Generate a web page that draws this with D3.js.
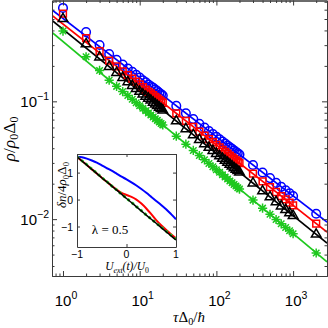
<!DOCTYPE html>
<html>
<head>
<meta charset="utf-8">
<script src="https://cdn.jsdelivr.net/npm/d3@7"></script>
<style>
  body { margin: 0; background: #fff; }
</style>
</head>
<body>
<div id="chart"></div>
<script>
// sweep times (tau*Delta0/hbar) of the markers
const tau = [1, 2, 3, 4, 5, 6, 7, 8, 9, 10, 11, 12, 13, 14, 15, 16, 17, 18, 19, 20,
  30, 40, 50, 60, 70, 80, 90, 100, 110, 120, 130, 140, 150, 160, 170, 180, 190, 200,
  300, 400, 500, 600, 700, 800, 900, 1000, 2000]

const rhoBlue = [0.621, 0.387, 0.301, 0.252, 0.225, 0.205, 0.190, 0.178, 0.168, 0.159,
  0.151, 0.145, 0.139, 0.134, 0.130, 0.126, 0.122, 0.118, 0.115, 0.112,
  0.0915, 0.0792, 0.0708, 0.0646, 0.0598, 0.0559, 0.0527, 0.0500, 0.0476, 0.0456,
  0.0438, 0.0422, 0.0408, 0.0395, 0.0383, 0.0372, 0.0362, 0.0353,
  0.0288, 0.0249, 0.0223, 0.0203, 0.0188, 0.0176, 0.0166, 0.0157, 0.0111]

const rhoRed = [0.556, 0.344, 0.267, 0.222, 0.198, 0.180, 0.167, 0.156, 0.147, 0.139,
  0.132, 0.126, 0.121, 0.117, 0.113, 0.109, 0.106, 0.103, 0.0999, 0.0973,
  0.0790, 0.0682, 0.0608, 0.0554, 0.0512, 0.0478, 0.0450, 0.0426, 0.0406, 0.0388,
  0.0373, 0.0359, 0.0346, 0.0335, 0.0325, 0.0315, 0.0307, 0.0299,
  0.0243, 0.0209, 0.0187, 0.0170, 0.0157, 0.0147, 0.0138, 0.0131, 0.00917]

const rhoBlack = [0.502, 0.307, 0.237, 0.197, 0.175, 0.159, 0.146, 0.136, 0.128, 0.121,
  0.115, 0.110, 0.106, 0.102, 0.0979, 0.0946, 0.0917, 0.0889, 0.0864, 0.0841,
  0.0680, 0.0584, 0.0519, 0.0472, 0.0435, 0.0405, 0.0381, 0.0360, 0.0343, 0.0327,
  0.0314, 0.0302, 0.0291, 0.0281, 0.0272, 0.0264, 0.0257, 0.0250,
  0.0202, 0.0173, 0.0154, 0.0140, 0.0129, 0.0120, 0.0113, 0.0107, 0.00743]

const rhoGreen = [0.395, 0.239, 0.183, 0.151, 0.134, 0.121, 0.112, 0.104, 0.0973, 0.0919,
  0.0873, 0.0832, 0.0797, 0.0766, 0.0737, 0.0712, 0.0689, 0.0668, 0.0648, 0.0631,
  0.0506, 0.0433, 0.0383, 0.0347, 0.0319, 0.0297, 0.0278, 0.0263, 0.0250, 0.0238,
  0.0228, 0.0219, 0.0211, 0.0204, 0.0197, 0.0191, 0.0185, 0.0180,
  0.0145, 0.0124, 0.0110, 0.00993, 0.00913, 0.00849, 0.00796, 0.00752, 0.00516]

// power-law fit lines, given by their two ends
const fitTau = [0.72, 2770]
const fitBlue = [0.596, 0.00943]
const fitRed = [0.536, 0.00776]
const fitBlack = [0.486, 0.00626]
const fitGreen = [0.385, 0.00433]

// inset: delta n / 4 rho0 Delta0 vs U_ext(t)/U0
const insetX = [-1, -0.9, -0.8, -0.7, -0.6, -0.5, -0.4, -0.3, -0.2, -0.1, 0,
  0.1, 0.2, 0.3, 0.4, 0.5, 0.6, 0.7, 0.8, 0.9, 1]
const insetBlue = [1.585, 1.57, 1.52, 1.45, 1.37, 1.27, 1.17, 1.07, 0.96, 0.85, 0.75,
  0.64, 0.52, 0.39, 0.25, 0.10, -0.05, -0.20, -0.36, -0.54, -0.73]
const insetRed = [1.585, 1.43, 1.28, 1.12, 0.97, 0.81, 0.66, 0.51, 0.37, 0.25, 0.17,
  0.10, 0.0, -0.15, -0.33, -0.54, -0.76, -0.95, -1.12, -1.29, -1.44]
const insetBlack = [1.585, 1.43, 1.28, 1.12, 0.97, 0.81, 0.66, 0.51, 0.35, 0.20, 0.04,
  -0.11, -0.27, -0.42, -0.58, -0.73, -0.88, -1.04, -1.19, -1.35, -1.50]
const insetGreen = [1.585, 1.44, 1.29, 1.13, 0.98, 0.82, 0.67, 0.51, 0.36, 0.20, 0.05,
  -0.10, -0.26, -0.41, -0.57, -0.72, -0.87, -1.02, -1.17, -1.32, -1.47]

const xMajor = [1, 10, 100, 1000]
const yMajor = [0.01, 0.1]
const insetTicks = [-1, 0, 1]
const lambdaLabel = "λ = 0.5"

const size = [328, 328]
const plot = {left: 52, right: 327, top: 0.5, bottom: 276}
const axisColor = "#3a3a3a"
const green = "#1ec81e"

const series = [
  {color: "blue", marker: "circle", rho: rhoBlue, fit: fitBlue, inset: insetBlue},
  {color: "red", marker: "square", rho: rhoRed, fit: fitRed, inset: insetRed},
  {color: "black", marker: "triangle", rho: rhoBlack, fit: fitBlack, inset: insetBlack},
  {color: green, marker: "star", rho: rhoGreen, fit: fitGreen, inset: insetGreen},
]

const svg = d3.select("#chart").append("svg")
  .attr("width", size[0])
  .attr("height", size[1])
  .style("display", "block")

svg.append("rect").attr("width", size[0]).attr("height", size[1]).attr("fill", "#fff")

const x = d3.scaleLog().domain([0.719, 2767]).range([plot.left, plot.right])
const y = d3.scaleLog().domain([0.00329, 0.718]).range([plot.bottom, plot.top])

svg.append("clipPath").attr("id", "clip")
  .append("rect")
  .attr("x", plot.left).attr("y", plot.top)
  .attr("width", plot.right - plot.left).attr("height", plot.bottom - plot.top)

const main = svg.append("g").attr("clip-path", "url(#clip)")

const fitLine = d3.line()
  .x(d => x(d[0]))
  .y(d => y(d[1]))

for (const s of series) {
  main.append("path")
    .datum(fitTau.map((t, i) => [t, s.fit[i]]))
    .attr("fill", "none")
    .attr("stroke", s.color)
    .attr("stroke-width", 1.7)
    .attr("d", fitLine)
}

function starPath(r) {
  let p = ""
  for (let k = 0; k < 4; k++) {
    const a = k * Math.PI / 4
    const dx = r * Math.sin(a), dy = r * Math.cos(a)
    p += `M${-dx},${-dy}L${dx},${dy}`
  }
  return p
}

const markerPath = {
  circle: d3.symbol(d3.symbolCircle, 58)(),
  square: d3.symbol(d3.symbolSquare, 46)(),
  triangle: d3.symbol(d3.symbolTriangle, 40)(),
  star: starPath(4.6),
}

for (const s of series) {
  main.append("g")
    .selectAll("path")
    .data(tau.map((t, i) => [t, s.rho[i]]))
    .join("path")
      .attr("transform", d => `translate(${x(d[0])},${y(d[1])})`)
      .attr("d", markerPath[s.marker])
      .attr("fill", "none")
      .attr("stroke", s.color)
      .attr("stroke-width", 1.5)
}

// axes, MATLAB-like box with inward ticks
const majorLen = 5, minorLen = 2.5
const xMinor = x.ticks().filter(v => !xMajor.includes(v))
const yMinor = y.ticks().filter(v => !yMajor.some(m => Math.abs(m - v) < 1e-12))

function drawAxis(axisFn, scale, values, len, transform) {
  svg.append("g")
    .attr("transform", transform)
    .call(axisFn(scale).tickValues(values).tickSizeInner(-len).tickSizeOuter(0).tickFormat(""))
    .call(g => g.selectAll("line").attr("stroke", axisColor))
    .call(g => g.select(".domain").attr("stroke", axisColor))
}

drawAxis(d3.axisBottom, x, xMajor, majorLen, `translate(0,${plot.bottom})`)
drawAxis(d3.axisBottom, x, xMinor, minorLen, `translate(0,${plot.bottom})`)
drawAxis(d3.axisTop, x, xMajor, majorLen, `translate(0,${plot.top})`)
drawAxis(d3.axisTop, x, xMinor, minorLen, `translate(0,${plot.top})`)
drawAxis(d3.axisLeft, y, yMajor, majorLen, `translate(${plot.left},0)`)
drawAxis(d3.axisLeft, y, yMinor, minorLen, `translate(${plot.left},0)`)
drawAxis(d3.axisRight, y, yMajor, majorLen, `translate(${plot.right},0)`)
drawAxis(d3.axisRight, y, yMinor, minorLen, `translate(${plot.right},0)`)

const sans = "'Liberation Sans', Arial, sans-serif"
const serif = "'Liberation Serif', 'Times New Roman', serif"

function powerLabel(g, v, px, py, anchor) {
  const t = g.append("text")
    .attr("x", px).attr("y", py)
    .attr("text-anchor", anchor)
    .attr("font-family", sans)
    .attr("font-size", 15)
    .attr("fill", "#000")
  t.append("tspan").text("10")
  t.append("tspan").attr("dy", -7).attr("font-size", 10.5)
    .text(Math.round(Math.log10(v)).toString().replace("-", "\u2212"))
}

const labels = svg.append("g")
for (const v of xMajor) powerLabel(labels, v, x(v) + 3, 306, "middle")
for (const v of yMajor) powerLabel(labels, v, 49, y(v) + 6, "end")

// rich-text title centred on (cx, cy), optionally rotated;
// parts: [text, {italic, sub}]
function title(cx, cy, angle, fontSize, parts) {
  const g = svg.append("g").attr("transform", `translate(${cx},${cy}) rotate(${angle})`)
  const t = g.append("text")
    .attr("x", 0).attr("y", 0)
    .attr("font-family", serif).attr("font-size", fontSize)
  let shift = 0
  for (const [str, opt] of parts) {
    const o = opt || {}
    const dy = (o.sub ? 3 : 0) - shift
    shift = o.sub ? 3 : 0
    const ts = t.append("tspan").attr("dy", dy).text(str)
    if (o.italic) ts.attr("font-style", "italic")
    if (o.sub) ts.attr("font-size", fontSize * 0.68)
  }
  const w = t.node().getComputedTextLength()
  t.attr("x", -w / 2)
  return t
}

title(189, 322, 0, 15, [["τ", {italic: true}], ["Δ"], ["0", {sub: true}], ["/"], ["ħ", {italic: true}]])
title(15, 139, -90, 17.5, [["ρ", {italic: true}], ["/"], ["ρ", {italic: true}], ["0", {sub: true}], ["Δ"], ["0", {sub: true}]])

// inset
const inset = {left: 77, right: 176, top: 154, bottom: 247}
const ix = d3.scaleLinear().domain([-1, 1]).range([inset.left, inset.right])
const iy = d3.scaleLinear().domain([-1.76, 1.69]).range([inset.bottom, inset.top])

svg.append("rect")
  .attr("x", inset.left).attr("y", inset.top)
  .attr("width", inset.right - inset.left).attr("height", inset.bottom - inset.top)
  .attr("fill", "#fff")

svg.append("clipPath").attr("id", "clipInset")
  .append("rect")
  .attr("x", inset.left).attr("y", inset.top)
  .attr("width", inset.right - inset.left).attr("height", inset.bottom - inset.top)

const ig = svg.append("g").attr("clip-path", "url(#clipInset)")
const insetLine = d3.line()
  .x((d, i) => ix(insetX[i]))
  .y(d => iy(d))
  .curve(d3.curveMonotoneX)

ig.append("path").datum(insetBlue).attr("fill", "none").attr("stroke", "blue")
  .attr("stroke-width", 2).attr("d", insetLine)
ig.append("path").datum(insetRed).attr("fill", "none").attr("stroke", "red")
  .attr("stroke-width", 2).attr("d", insetLine)
ig.append("path").datum(insetGreen).attr("fill", "none").attr("stroke", green)
  .attr("stroke-width", 2.8).attr("stroke-dasharray", "2.5,3").attr("d", insetLine)
ig.append("path").datum(insetBlack).attr("fill", "none").attr("stroke", "black")
  .attr("stroke-width", 1.5).attr("d", insetLine)

function drawInsetAxis(axisFn, scale, len, transform) {
  svg.append("g")
    .attr("transform", transform)
    .call(axisFn(scale).tickValues(insetTicks).tickSizeInner(-len).tickSizeOuter(0).tickFormat(""))
    .call(g => g.selectAll("line").attr("stroke", axisColor))
    .call(g => g.select(".domain").attr("stroke", axisColor))
}
drawInsetAxis(d3.axisBottom, ix, 3, `translate(0,${inset.bottom})`)
drawInsetAxis(d3.axisTop, ix, 3, `translate(0,${inset.top})`)
drawInsetAxis(d3.axisLeft, iy, 3, `translate(${inset.left},0)`)
drawInsetAxis(d3.axisRight, iy, 3, `translate(${inset.right},0)`)

const fmt = v => v.toString().replace("-", "\u2212")
svg.append("g").selectAll("text")
  .data(insetTicks)
  .join("text")
    .attr("x", d => ix(d))
    .attr("y", inset.bottom + 11)
    .attr("text-anchor", "middle")
    .attr("font-family", sans).attr("font-size", 10.5)
    .text(fmt)
svg.append("g").selectAll("text")
  .data(insetTicks)
  .join("text")
    .attr("x", inset.left - 4)
    .attr("y", d => iy(d) + 4)
    .attr("text-anchor", "end")
    .attr("font-family", sans).attr("font-size", 10.5)
    .text(fmt)

svg.append("text")
  .attr("x", ix(-0.7)).attr("y", iy(-1.1) + 5)
  .attr("font-family", serif).attr("font-size", 13)
  .text(lambdaLabel)

title(127, 270, 0, 11.5, [["U", {italic: true}], ["ext", {italic: true, sub: true}],
  ["(t)/U", {italic: true}], ["0", {sub: true}]])
title(66, 185, -90, 13, [["δn", {italic: true}], ["/4"], ["ρ", {italic: true}],
  ["0", {sub: true}], ["Δ"], ["0", {sub: true}]])
</script>
</body>
</html>
